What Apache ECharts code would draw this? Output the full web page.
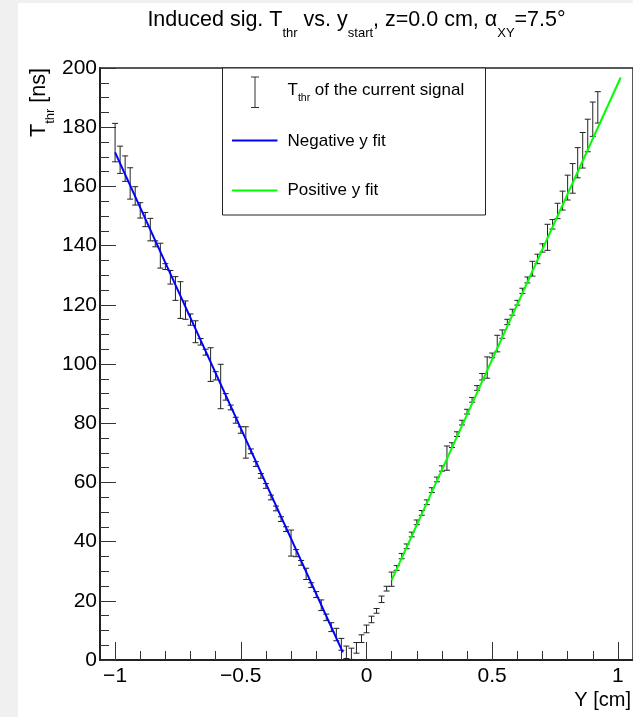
<!DOCTYPE html>
<html><head><meta charset="utf-8">
<script src="https://cdn.jsdelivr.net/npm/echarts@6/dist/echarts.min.js"></script>
<style>html,body{margin:0;padding:0;background:#fff;}#c{width:633px;height:717px;}</style>
</head><body><div id="c"></div>
<script>
// ---- data ----
const yStart = [-1.00,-0.98,-0.96,-0.94,-0.92,-0.90,-0.88,-0.86,-0.84,-0.82,-0.80,-0.78,-0.76,-0.74,-0.72,-0.70,-0.68,-0.66,-0.64,-0.62,-0.60,-0.58,-0.56,-0.54,-0.52,-0.50,-0.48,-0.46,-0.44,-0.42,-0.40,-0.38,-0.36,-0.34,-0.32,-0.30,-0.28,-0.26,-0.24,-0.22,-0.20,-0.18,-0.16,-0.14,-0.12,-0.10,-0.08,-0.06,-0.04,-0.02,
  0.00,0.02,0.04,0.06,0.08,
  0.10,0.12,0.14,0.16,0.18,0.20,0.22,0.24,0.26,0.28,0.30,0.32,0.34,0.36,0.38,0.40,0.42,0.44,0.46,0.48,0.50,0.52,0.54,0.56,0.58,
  0.60,0.62,0.64,0.66,0.68,0.70,0.72,0.74,0.76,0.78,0.80,0.82,0.84,0.86,0.88,0.90,0.92];
const tThr = [174.8,169.0,166.0,161.0,156.8,151.9,148.8,145.4,140.6,136.6,132.9,129.3,125.5,121.6,118.2,115.0,110.9,107.5,104.0,99.8,96.0,92.4,88.9,85.3,81.0,77.7,73.5,70.5,66.2,62.2,58.8,54.9,51.2,47.6,44.2,39.5,36.1,32.8,29.1,25.3,22.1,18.5,14.4,11.1,8.6,5.3,2.6,2.1,4.1,7.2,
  10.5,13.7,16.6,20.5,24.1,
  27.3,31.1,35.1,38.4,42.4,46.5,49.7,53.3,57.4,61.0,64.7,68.2,72.6,76.3,80.2,83.9,87.9,91.9,95.7,98.8,102.9,106.9,110.1,114.2,117.5,
  120.7,124.7,128.4,132.2,135.5,139.2,142.8,147.2,151.7,155.2,159.6,162.7,168.0,172.2,177.2,182.7,186.7];
const tErr = [6.5,4.6,4.3,5.3,3.1,2.6,2.4,3.8,1.0,4.2,1.0,2.3,4.0,6.2,3.1,1.9,3.7,1.1,1.0,5.7,1.4,7.5,1.1,0.8,1.0,1.1,5.3,0.8,0.8,0.8,0.8,0.8,0.8,0.8,0.8,4.4,1.2,0.8,1.9,0.8,1.0,1.8,1.1,1.5,2.1,2.0,2.1,1.9,1.8,1.3,
  1.3,1.1,0.8,1.1,0.8,
  2.4,0.8,0.9,0.8,0.8,0.8,0.8,0.8,0.8,0.8,0.9,4.1,0.8,0.8,0.8,0.8,0.8,0.8,1.1,3.6,0.8,2.8,1.4,0.9,1.0,
  0.8,0.9,1.0,2.5,1.6,1.4,4.4,1.6,2.6,3.2,4.2,5.0,5.1,6.0,5.5,5.8,5.3];
const negFitX = [-1.0, -0.094];
const negFitT = [171.5, 2.6];
const posFitX = [0.10, 1.011];
const posFitT = [27.0, 196.8];
const xMajorTicks = [-1, -0.5, 0, 0.5, 1];
const xMinorTicks = [-0.9,-0.8,-0.7,-0.6,-0.4,-0.3,-0.2,-0.1,0.1,0.2,0.3,0.4,0.6,0.7,0.8,0.9];
const seriesNames = ['T_thr of the current signal', 'Negative y fit', 'Positive y fit'];
const titleText = '{m|Induced sig. T}{s|thr}{m| vs. y}{s|start}{m|, z=0.0 cm, \u03b1}{s|XY}{m|=7.5\u00b0}';
const yTitleText = '{m|T}{s|thr}{m| [ns]}';
const legendText = '{m|T}{s|thr}{m| of the current signal}';

// ---- helpers ----
const FONT = '"Liberation Sans", Arial, Helvetica, sans-serif';
function richSub(mainSize, subSize, pad) {
  return {
    m: {fontSize: mainSize, fontFamily: FONT, verticalAlign: 'top', fill: '#000'},
    s: {fontSize: subSize, fontFamily: FONT, verticalAlign: 'bottom', padding: [pad, 0, 0, 0], fill: '#000'}
  };
}

// ---- chart ----
const chart = echarts.init(document.getElementById('c'), null, {renderer: 'canvas'});
const points = yStart.map((x, i) => [x, tThr[i], tErr[i]]);
const negFit = negFitX.map((x, i) => [x, negFitT[i]]);
const posFit = posFitX.map((x, i) => [x, posFitT[i]]);
const fmt = v => (v < 0 ? '\u2212' + String(-v) : String(v));
const AX = '#222', TK = '#333';

const option = {
  backgroundColor: '#fff',
  animation: false,
  grid: {left: 100, top: 68, width: 534, height: 592, show: true, borderColor: AX, borderWidth: 1.5, backgroundColor: 'transparent'},
  xAxis: [{
    type: 'value', min: -1.06, max: 1.06, position: 'bottom',
    axisLine: {show: true, onZero: false, lineStyle: {color: AX, width: 2}},
    axisTick: {show: true, inside: true, length: 18, customValues: xMajorTicks, lineStyle: {color: TK, width: 1}},
    axisLabel: {show: true, customValues: xMajorTicks, formatter: fmt, color: '#000', fontSize: 21, fontFamily: FONT, margin: 6},
    splitLine: {show: false}
  }, {
    type: 'value', min: -1.06, max: 1.06, position: 'bottom',
    axisLine: {show: false},
    axisTick: {show: true, inside: true, length: 9, customValues: xMinorTicks, lineStyle: {color: TK, width: 1}},
    axisLabel: {show: false},
    splitLine: {show: false}
  }],
  yAxis: {
    type: 'value', min: 0, max: 200, interval: 20,
    axisLine: {show: true, onZero: false, lineStyle: {color: AX, width: 2}},
    axisTick: {show: true, inside: true, length: 16, lineStyle: {color: TK, width: 1}},
    minorTick: {show: true, splitNumber: 4, length: 9, lineStyle: {color: TK, width: 1}},
    axisLabel: {color: '#000', fontSize: 21, fontFamily: FONT, margin: 3},
    splitLine: {show: false}, minorSplitLine: {show: false}
  },
  series: [{
    name: seriesNames[0], type: 'custom', xAxisIndex: 0, yAxisIndex: 0,
    data: points, encode: {x: 0, y: 1}, z: 3,
    renderItem: function (params, api) {
      const x = api.value(0), y = api.value(1), e = api.value(2);
      const top = api.coord([x, y + e]);
      const bot = api.coord([x, y - e]);
      const hw = 3;
      const st = {stroke: '#222', lineWidth: 1};
      return {type: 'group', children: [
        {type: 'line', shape: {x1: top[0], y1: top[1], x2: bot[0], y2: bot[1]}, style: st},
        {type: 'line', shape: {x1: top[0] - hw, y1: top[1], x2: top[0] + hw, y2: top[1]}, style: st},
        {type: 'line', shape: {x1: bot[0] - hw, y1: bot[1], x2: bot[0] + hw, y2: bot[1]}, style: st}
      ]};
    }
  }, {
    name: seriesNames[1], type: 'line', xAxisIndex: 0, yAxisIndex: 0, data: negFit,
    showSymbol: false, symbol: 'none', z: 4, lineStyle: {color: '#0000ff', width: 2}
  }, {
    name: seriesNames[2], type: 'line', xAxisIndex: 0, yAxisIndex: 0, data: posFit,
    showSymbol: false, symbol: 'none', z: 4, lineStyle: {color: '#00ff00', width: 2}
  }],
  graphic: [
    {type: 'rect', shape: {x: 0, y: 0, width: 18, height: 717}, style: {fill: '#f0f0f0'}, silent: true},
    {type: 'rect', shape: {x: 0, y: 0, width: 633, height: 3}, style: {fill: '#f0f0f0'}, silent: true},
    // title
    {type: 'text', x: 356.5, y: 8.75, silent: true, style: {
      text: titleText, align: 'center', verticalAlign: 'top', fill: '#000', font: '21.5px ' + FONT,
      rich: richSub(21.5, 13, 18.25)}},
    // y axis title
    {type: 'text', x: 28.25, y: 68, rotation: Math.PI / 2, silent: true, style: {
      text: yTitleText, align: 'right', verticalAlign: 'top', fill: '#000', font: '21.5px ' + FONT,
      rich: richSub(21.5, 13, 15.25)}},
    // x axis title
    {type: 'text', x: 631, y: 700, silent: true, style: {text: 'Y [cm]', align: 'right', verticalAlign: 'middle', fill: '#000', font: '20px ' + FONT}},
    // legend
    {type: 'rect', shape: {x: 222.5, y: 68, width: 263, height: 147}, style: {fill: '#fff', stroke: '#222', lineWidth: 1}, z: 10, silent: true},
    {type: 'line', z: 11, shape: {x1: 255, y1: 77, x2: 255, y2: 107.5}, style: {stroke: '#333', lineWidth: 1}, silent: true},
    {type: 'line', z: 11, shape: {x1: 251, y1: 77, x2: 259, y2: 77}, style: {stroke: '#333', lineWidth: 1}, silent: true},
    {type: 'line', z: 11, shape: {x1: 251, y1: 107.5, x2: 259, y2: 107.5}, style: {stroke: '#333', lineWidth: 1}, silent: true},
    {type: 'text', z: 11, x: 287.5, y: 81.5, silent: true, style: {
      text: legendText, align: 'left', verticalAlign: 'top', fill: '#000', font: '17px ' + FONT,
      rich: richSub(17, 10.5, 11.25)}},
    {type: 'line', z: 11, shape: {x1: 232, y1: 140.5, x2: 277.5, y2: 140.5}, style: {stroke: '#0000ff', lineWidth: 2}, silent: true},
    {type: 'text', z: 11, x: 287.5, y: 141.5, silent: true, style: {text: 'Negative y fit', align: 'left', verticalAlign: 'middle', fill: '#000', font: '17px ' + FONT}},
    {type: 'line', z: 11, shape: {x1: 232, y1: 190.5, x2: 277.5, y2: 190.5}, style: {stroke: '#00ff00', lineWidth: 2}, silent: true},
    {type: 'text', z: 11, x: 287.5, y: 190, silent: true, style: {text: 'Positive y fit', align: 'left', verticalAlign: 'middle', fill: '#000', font: '17px ' + FONT}}
  ]
};
chart.setOption(option);
</script>
</body></html>
